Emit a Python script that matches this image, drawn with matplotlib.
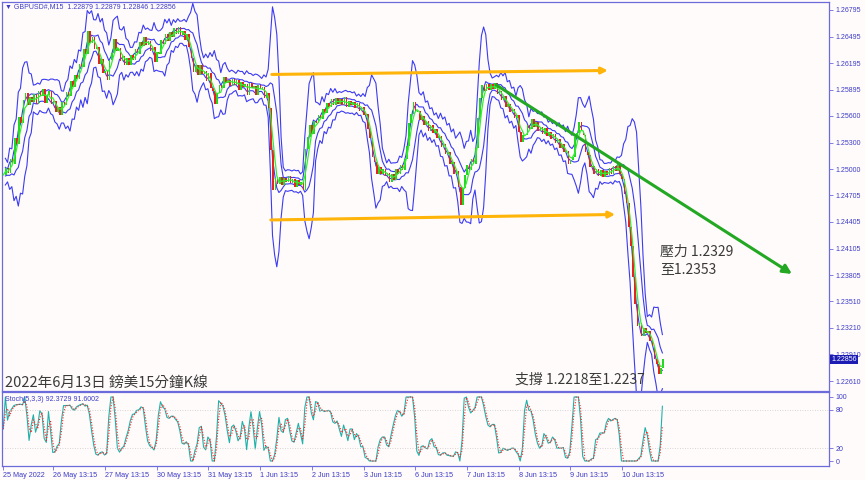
import numpy as np
import pandas as pd
import matplotlib.pyplot as plt

plt.rcParams['font.family'] = ['Liberation Sans', 'DejaVu Sans']
CJK = ['Noto Sans CJK TC', 'DejaVu Sans']

# GBPUSD hourly closes (server time), one list per trading day
# 25 May starts at 14:00, 13 Jun ends at 08:00
close_0525 = [1.24934, 1.25010, 1.24955, 1.25120, 1.25060, 1.25350, 1.25280, 1.25590, 1.25520, 1.25780]
close_0526 = [1.25860, 1.25720, 1.25810, 1.25760, 1.25850, 1.25740, 1.25880, 1.25820, 1.25905, 1.25750,
              1.25840, 1.25880, 1.25730, 1.25770, 1.25640, 1.25700, 1.25610, 1.25760, 1.25720, 1.25870,
              1.25830, 1.25990, 1.25930, 1.26060]
close_0527 = [1.26020, 1.26190, 1.26150, 1.26360, 1.26300, 1.26560, 1.26420, 1.26490, 1.26350, 1.26380,
              1.26190, 1.26240, 1.26080, 1.26110, 1.26010, 1.26230, 1.26310, 1.26470, 1.26330, 1.26370,
              1.26220, 1.26280, 1.26170, 1.26250]
close_0530 = [1.26180, 1.26290, 1.26230, 1.26350, 1.26300, 1.26430, 1.26390, 1.26490, 1.26400, 1.26450,
              1.26330, 1.26380, 1.26210, 1.26320, 1.26300, 1.26460, 1.26410, 1.26520, 1.26450, 1.26550,
              1.26490, 1.26590, 1.26520, 1.26600]
close_0531 = [1.26510, 1.26560, 1.26460, 1.26520, 1.26380, 1.26250, 1.26100, 1.26170, 1.26060, 1.26180,
              1.26070, 1.26110, 1.25990, 1.26080, 1.25920, 1.25880, 1.25740, 1.25860, 1.25950, 1.25920,
              1.26040, 1.25970, 1.26010, 1.25940]
close_0601 = [1.26020, 1.25950, 1.26010, 1.25890, 1.25980, 1.25930, 1.25960, 1.25840, 1.25970, 1.25910,
              1.25940, 1.25840, 1.25950, 1.25900, 1.25930, 1.25800, 1.25860, 1.25690, 1.25216, 1.24760,
              1.24900, 1.24830, 1.24910, 1.24820]
close_0602 = [1.24900, 1.24850, 1.24920, 1.24840, 1.24890, 1.24800, 1.24880, 1.24820, 1.24860, 1.24770,
              1.25230, 1.25360, 1.25500, 1.25400, 1.25540, 1.25520, 1.25610, 1.25570, 1.25680, 1.25630,
              1.25750, 1.25700, 1.25790, 1.25720]
close_0603 = [1.25800, 1.25740, 1.25790, 1.25720, 1.25810, 1.25700, 1.25770, 1.25720, 1.25760, 1.25690,
              1.25750, 1.25660, 1.25700, 1.25610, 1.25620, 1.25450, 1.25350, 1.25140, 1.25080, 1.24950,
              1.25020, 1.24940, 1.25000, 1.24920]
close_0606 = [1.24960, 1.24860, 1.24940, 1.24880, 1.25000, 1.24950, 1.25050, 1.24990, 1.25120, 1.25260,
              1.25520, 1.25620, 1.25760, 1.25640, 1.25660, 1.25550, 1.25600, 1.25500, 1.25540, 1.25430,
              1.25500, 1.25410, 1.25450, 1.25350]
close_0607 = [1.25370, 1.25250, 1.25280, 1.25170, 1.25190, 1.25060, 1.25080, 1.24940, 1.24980, 1.24800,
              1.24600, 1.24790, 1.24930, 1.25050, 1.24990, 1.25110, 1.25060, 1.25240, 1.25580, 1.25800,
              1.25950, 1.25880, 1.25960, 1.25890]
close_0608 = [1.25960, 1.25900, 1.25970, 1.25850, 1.25880, 1.25780, 1.25820, 1.25700, 1.25740, 1.25640,
              1.25680, 1.25580, 1.25610, 1.25420, 1.25310, 1.25390, 1.25380, 1.25500, 1.25450, 1.25560,
              1.25480, 1.25530, 1.25430, 1.25470]
close_0609 = [1.25400, 1.25460, 1.25370, 1.25420, 1.25340, 1.25400, 1.25300, 1.25340, 1.25240, 1.25280,
              1.25190, 1.25200, 1.25060, 1.25100, 1.25140, 1.25360, 1.25410, 1.25530, 1.25430, 1.25380,
              1.25190, 1.25160, 1.25020, 1.25030]
close_0610 = [1.24940, 1.25000, 1.24920, 1.24990, 1.24910, 1.24980, 1.24930, 1.25010, 1.24950, 1.25040,
              1.24980, 1.25060, 1.24940, 1.24890, 1.24720, 1.24620, 1.24350, 1.24130, 1.23780, 1.23480,
              1.23230, 1.23260, 1.23120, 1.23210]
close_0613 = [1.23150, 1.23180, 1.23060, 1.23010, 1.22860, 1.22800, 1.22690, 1.22760, 1.22856]

day_closes = [close_0525, close_0526, close_0527, close_0530, close_0531, close_0601, close_0602,
              close_0603, close_0606, close_0607, close_0608, close_0609, close_0610, close_0613]

date_labels = ['25 May 2022', '26 May 13:15', '27 May 13:15', '30 May 13:15', '31 May 13:15',
               '1 Jun 13:15', '2 Jun 13:15', '3 Jun 13:15', '6 Jun 13:15', '7 Jun 13:15',
               '8 Jun 13:15', '9 Jun 13:15', '10 Jun 13:15']

price_ticks = [1.26795, 1.26495, 1.26195, 1.25895, 1.25600, 1.25300, 1.25000, 1.24705,
               1.24405, 1.24105, 1.23805, 1.23510, 1.23210, 1.22910, 1.22610]

# hand drawn lines: (trading day, price)
upper_line = [(5.78, 1.26068), (12.28, 1.26113)]
lower_line = [(5.76, 1.24427), (12.42, 1.24489)]
trend_line = [(10.12, 1.25949), (15.84, 1.23818)]

header = '\u25bc GBPUSD#,M15  1.22879 1.22879 1.22846 1.22856'
stoch_header = 'Stoch(5,3,3) 92.3729 91.6002'
last_price = 1.22856

BG = '#fffbfa'
FRAME = '#6b6bdc'
TXT = '#3c3cc8'

# build time axis (x = trading day index + hour/24)
t, c = [], []
for d, vals in enumerate(day_closes):
    h0 = 14 if d == 0 else 0
    for i, v in enumerate(vals):
        t.append(d + (h0 + i) / 24)
        c.append(v)
df = pd.DataFrame({'t': t, 'close': c})
df['open'] = df['close'].shift(1).fillna(df['close'].iloc[0])

# indicators (periods scaled from M15 to hourly bars)
ma = df['close'].rolling(4, min_periods=1).mean()
mid = df['close'].rolling(6, min_periods=2).mean()
sd = df['close'].rolling(6, min_periods=2).std()
lo = df['close'].rolling(3, min_periods=1).min()
hi = df['close'].rolling(3, min_periods=1).max()
k = (df['close'] - lo).rolling(2, min_periods=1).sum() / (hi - lo).rolling(2, min_periods=1).sum() * 100
k = k.fillna(50)
dline = k.rolling(2, min_periods=1).mean()

fig = plt.figure(figsize=(8.65, 4.8), dpi=100, facecolor=BG)
ax = fig.add_axes([2 / 865, 89 / 480, 827 / 865, 389 / 480], facecolor=BG)
ax2 = fig.add_axes([2 / 865, 14 / 480, 827 / 865, 74 / 480], facecolor=BG, sharex=ax)

# candles
up = df['close'] >= df['open']
w = 0.75 / 24
ax.bar(df['t'][up], (df['close'] - df['open'])[up], bottom=df['open'][up], width=w,
       color='#22d822', align='edge', zorder=3)
ax.bar(df['t'][~up], (df['close'] - df['open'])[~up], bottom=df['open'][~up], width=w,
       color='#e82222', align='edge', zorder=3)
ax.plot(df['t'], ma, color='#33ee33', lw=0.9, zorder=4)

# bands
for dev in (2.8, 0.9):
    ax.plot(df['t'], mid + dev * sd, color='#3b3bf2', lw=0.8, zorder=2)
    ax.plot(df['t'], mid - dev * sd, color='#3b3bf2', lw=0.8, zorder=2)

# lines drawn on chart
for line, col, lw, ms in [(upper_line, '#ffb40a', 2.2, 9), (lower_line, '#ffb40a', 2.2, 9),
                          (trend_line, '#22a822', 2.2, 13)]:
    ax.annotate('', xy=line[1], xytext=line[0],
                arrowprops=dict(arrowstyle='-|>', color=col, lw=lw, mutation_scale=ms,
                                shrinkA=0, shrinkB=0), zorder=5)

ax.text(13.29, 1.24145, '壓力 1.2329\n至1.2353', family=CJK, fontsize=10, color='#3a3a3a',
        va='top', ha='left', linespacing=1.25)
ax.text(10.48, 1.22622, '支撐 1.2218至1.2237', family=CJK, fontsize=10, color='#3a3a3a',
        va='center', ha='left')
fig.text(5 / 865, 1 - 383 / 480, '2022年6月13日 鎊美15分鐘K線', family=CJK, fontsize=10.5,
         color='#3a3a3a', va='center', ha='left')
fig.text(5 / 865, 1 - 7 / 480, header, fontsize=5, color=TXT, va='center', ha='left')
ax2.text(3 / 827, 0.9, stoch_header, transform=ax2.transAxes, fontsize=5, color=TXT,
         va='center', ha='left')

ax.set_xlim(0.5597, 16.556)
ax.set_ylim(1.22498, 1.26885)
ax.yaxis.tick_right()
ax.set_yticks(price_ticks)
ax.set_yticklabels([f'{p:.5f}' for p in price_ticks])
ax.tick_params(axis='y', length=3, width=0.6, colors=FRAME, labelcolor=TXT, labelsize=5, pad=1.5)
ax.tick_params(axis='x', bottom=False, labelbottom=False)

# last price marker
ax.text(1.0024, last_price, f'{last_price:.5f}', transform=ax.get_yaxis_transform(), fontsize=5,
        color='white', va='center', ha='left', zorder=10, clip_on=False,
        bbox=dict(boxstyle='square,pad=0.15', fc='#1c1cb4', ec='none'))

# stochastic panel
ax2.plot(df['t'], k, color='#20b2aa', lw=0.8)
ax2.plot(df['t'], dline, color='#ff2020', lw=0.8, ls=(0, (1, 1.5)))
for lvl in (20, 80):
    ax2.axhline(lvl, color='#c8c8c8', lw=0.6, ls=(0, (1, 2)))
ax2.set_ylim(-7.8, 107.8)
ax2.yaxis.tick_right()
ax2.set_yticks([0, 20, 80, 100])
ax2.tick_params(axis='y', length=3, width=0.6, colors=FRAME, labelcolor=TXT, labelsize=5, pad=1.5)

xt = [0.583] + [d + 13.25 / 24 for d in range(1, 13)]
ax2.set_xticks(xt)
ax2.set_xticklabels(date_labels)
ax2.tick_params(axis='x', length=3, width=0.6, colors=FRAME, labelcolor=TXT, labelsize=5.2, pad=1)
for lbl in ax2.get_xticklabels():
    lbl.set_ha('left')

for a in (ax, ax2):
    for s in a.spines.values():
        s.set_color(FRAME)
        s.set_linewidth(0.9)

plt.savefig('out.png', dpi=100, facecolor=BG)
